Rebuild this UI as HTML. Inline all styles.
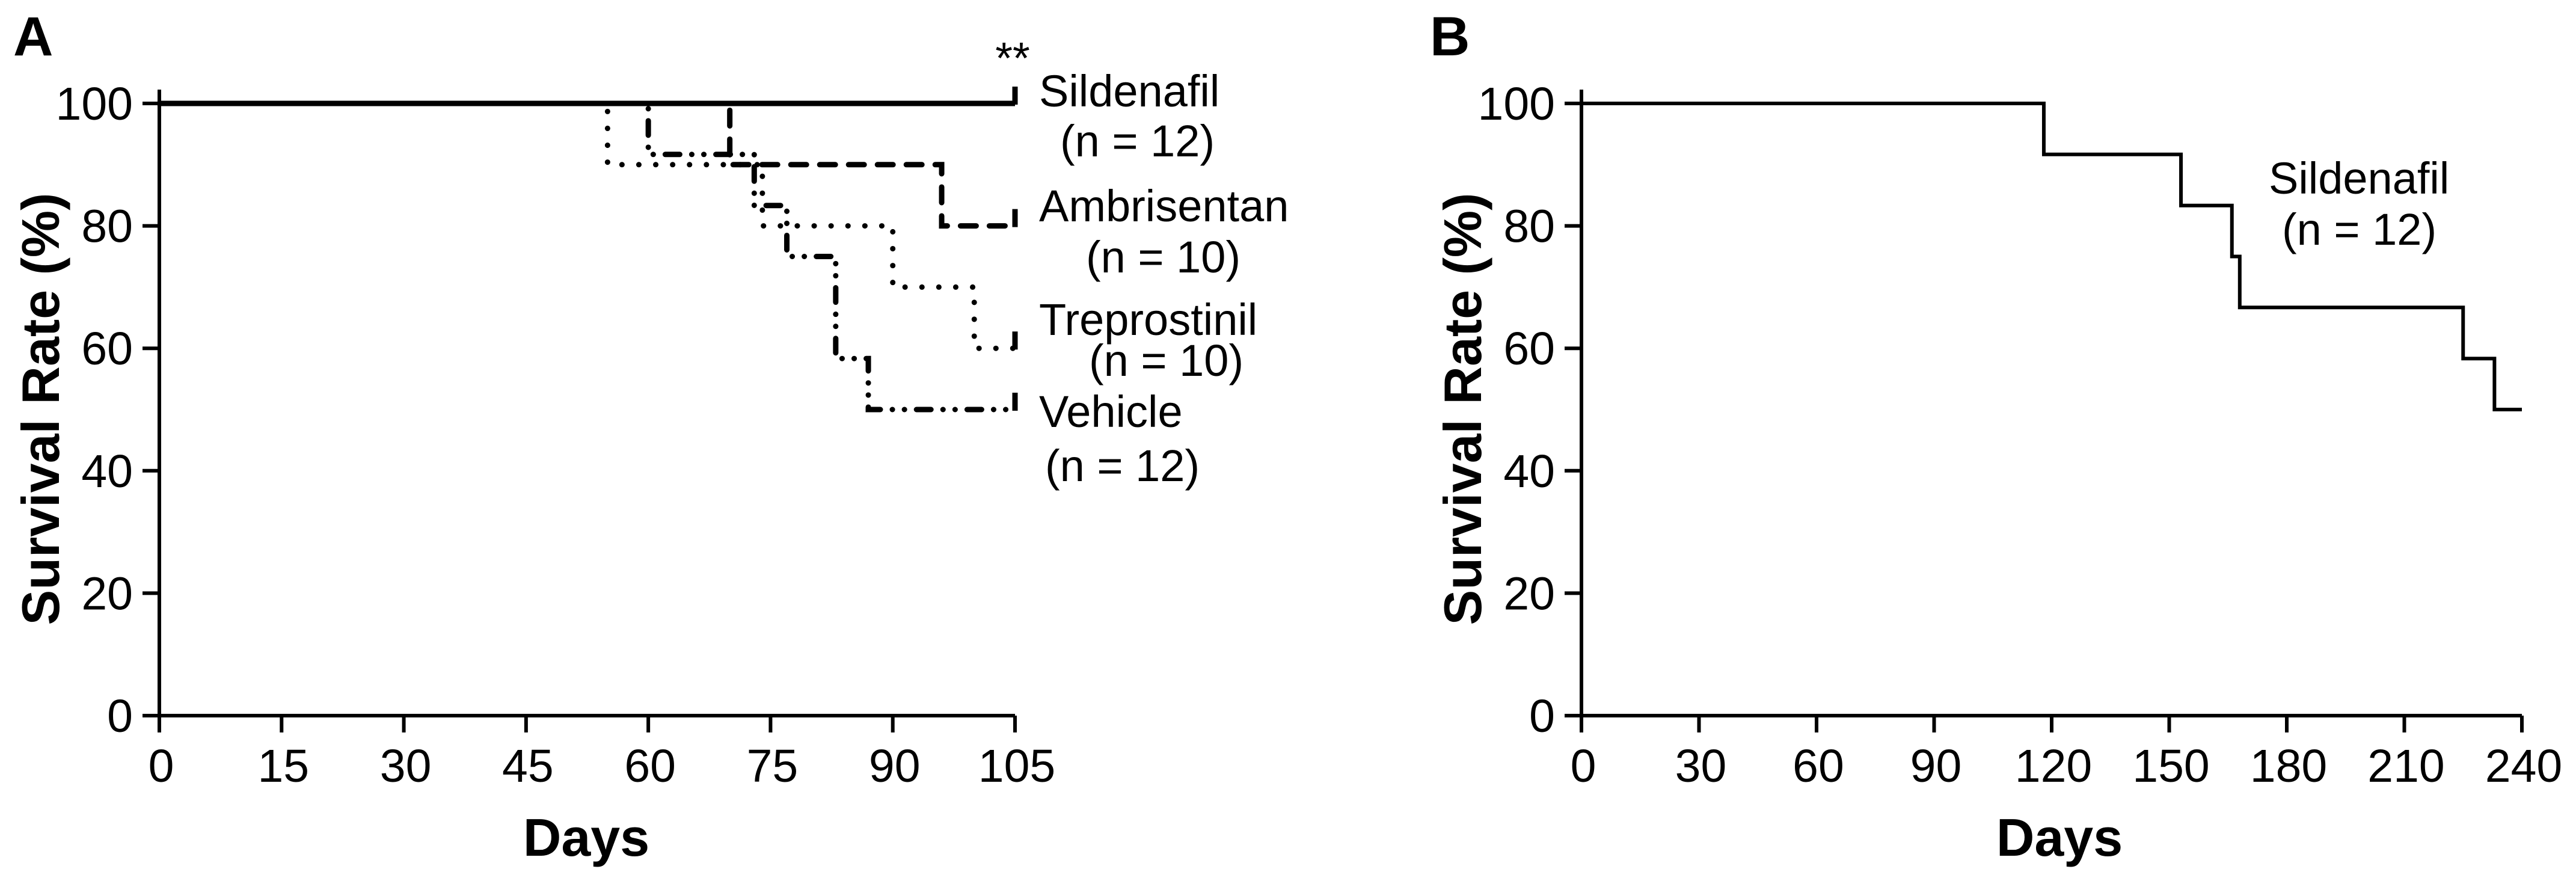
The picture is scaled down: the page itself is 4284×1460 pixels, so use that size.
<!DOCTYPE html>
<html><head><meta charset="utf-8"><style>
html,body{margin:0;padding:0;background:#fff;}
svg{display:block;}
text{font-family:"Liberation Sans",sans-serif;fill:#000;}
</style></head><body>
<svg id="chart" width="4284" height="1460" viewBox="0 0 4284 1460" xmlns="http://www.w3.org/2000/svg">
<g id="panelA"></g>
<g id="panelB"></g>
</svg>
<script>
// ---- Panel A data ----
const aTicksX = [0,15,30,45,60,75,90,105];
const aTicksY = [0,20,40,60,80,100];
const sildenafilDaysA = [0,105];
const sildenafilValsA = [100,100];
const ambrisentanDays = [0,70,96,105];
const ambrisentanVals = [100,90,80,80];
const treprostinilDays = [0,55,74,90,100,105];
const treprostinilVals = [100,90,80,70,60,60];
const vehicleDays = [0,60,73,77,83,87,105];
const vehicleVals = [100,91.67,83.33,75,58.33,50,50];
const legendA = ["Sildenafil","(n = 12)","Ambrisentan","(n = 10)","Treprostinil","(n = 10)","Vehicle","(n = 12)"];
// ---- Panel B data ----
const bTicksX = [0,30,60,90,120,150,180,210,240];
const bTicksY = [0,20,40,60,80,100];
const sildenafilDaysB = [0,118,153,166,168,225,233,240];
const sildenafilValsB = [100,91.67,83.33,75,66.67,58.33,50,50];

const NS="http://www.w3.org/2000/svg";
function mk(parent,tag,attrs){const e=document.createElementNS(NS,tag);for(const k in attrs)e.setAttribute(k,attrs[k]);parent.appendChild(e);return e;}
function txt(parent,x,y,s,size,opt){
  opt=opt||{};
  const t=mk(parent,'text',{x:0,y:0,'font-size':size,'text-anchor':opt.anchor||'start','font-weight':opt.bold?'bold':'normal',
    transform:`translate(${x},${y}) ${opt.rot?'rotate(-90)':''} scale(${opt.sx||1},${opt.sy||1})`});
  t.textContent=s;return t;
}
function stepPath(days,vals,sx,sy){
  let d=`M${sx(days[0])},${sy(vals[0])}`;
  for(let i=1;i<days.length;i++){d+=` H${sx(days[i])} V${sy(vals[i])}`;}
  return d;
}
const Y0=1190,Y100=172;

function axes(g,x0,x1,xmax,ticksX,ticksY,sx,sy){
  const ax=mk(g,'path',{d:`M${x0},149 V${Y0} H${x1}`,fill:'none',stroke:'#000','stroke-width':6});
  
  
  ticksY.forEach(v=>{
    const l=mk(g,'line',{x1:x0-28,x2:x0,y1:sy(v),y2:sy(v),stroke:'#000','stroke-width':6});
    
    
    const t=txt(g,x0-44,sy(v)+27,String(v),77,{anchor:'end'});
    
    
  });
  ticksX.forEach(v=>{
    const l=mk(g,'line',{x1:sx(v),x2:sx(v),y1:Y0,y2:Y0+28,stroke:'#000','stroke-width':6});
    
    
    const t=txt(g,sx(v)+3,1300,String(v),77,{anchor:'middle'});
    
    
  });
}

// Panel A
(function(){
  const g=document.getElementById('panelA');
  const x0=265,x1=1688;
  const sx=d=>x0+(x1-x0)*d/105, sy=v=>Y0-(Y0-Y100)*v/100;
  axes(g,x0,x1,105,aTicksX,aTicksY,sx,sy);
  const series=[
    [treprostinilDays,treprostinilVals,'0.1 28','treprostinil-line'],
    [vehicleDays,vehicleVals,'24 20 0.1 20 0.1 20','vehicle-line'],
    [ambrisentanDays,ambrisentanVals,'26 22','ambrisentan-line'],
    [sildenafilDaysA,sildenafilValsA,'none','sildenafil-line']
  ];
  series.forEach(s=>{
    const p=mk(g,'path',{d:stepPath(s[0],s[1],sx,sy),fill:'none',stroke:'#000','stroke-width':9,'stroke-linecap':s[2]==='none'?'butt':'round','stroke-dasharray':s[2]});
    
    
    const last=s[1][s[1].length-1];
    const c=mk(g,'line',{x1:sx(105),x2:sx(105),y1:sy(last)-28,y2:sy(last)+2,stroke:'#000','stroke-width':9});
    
    
  });
  const lx=[1728,1763,1728,1806,1728,1811,1728,1738];
  const ly=[177,260,368,453,557,625,710,800];
  legendA.forEach((s,i)=>{
    const t=txt(g,lx[i],ly[i],s,74);
    
    
  });
  const st=txt(g,1684,122,'**',74,{anchor:'middle'});
  
  
  const ya=txt(g,98,680,'Survival Rate (%)',88,{anchor:'middle',bold:true,rot:true});
  
  
  const xa=txt(g,975,1423,'Days',88,{anchor:'middle',bold:true});
  
  
  const pl=txt(g,22,92,'A',92,{bold:true});
  
  
})();

// Panel B
(function(){
  const g=document.getElementById('panelB');
  const x0=2630,x1=4194;
  const sx=d=>x0+(x1-x0)*d/240, sy=v=>Y0-(Y0-Y100)*v/100;
  axes(g,x0,x1,240,bTicksX,bTicksY,sx,sy);
  const p=mk(g,'path',{d:stepPath(sildenafilDaysB,sildenafilValsB,sx,sy),fill:'none',stroke:'#000','stroke-width':6});
  
  
  const l1=txt(g,3773,322,'Sildenafil',74);
  
  
  const l2=txt(g,3795,407,'(n = 12)',74);
  
  
  const ya=txt(g,2463,680,'Survival Rate (%)',88,{anchor:'middle',bold:true,rot:true});
  
  
  const xa=txt(g,3425,1423,'Days',88,{anchor:'middle',bold:true});
  
  
  const pl=txt(g,2378,92,'B',92,{bold:true});
  
  
})();
</script>
</body></html>
